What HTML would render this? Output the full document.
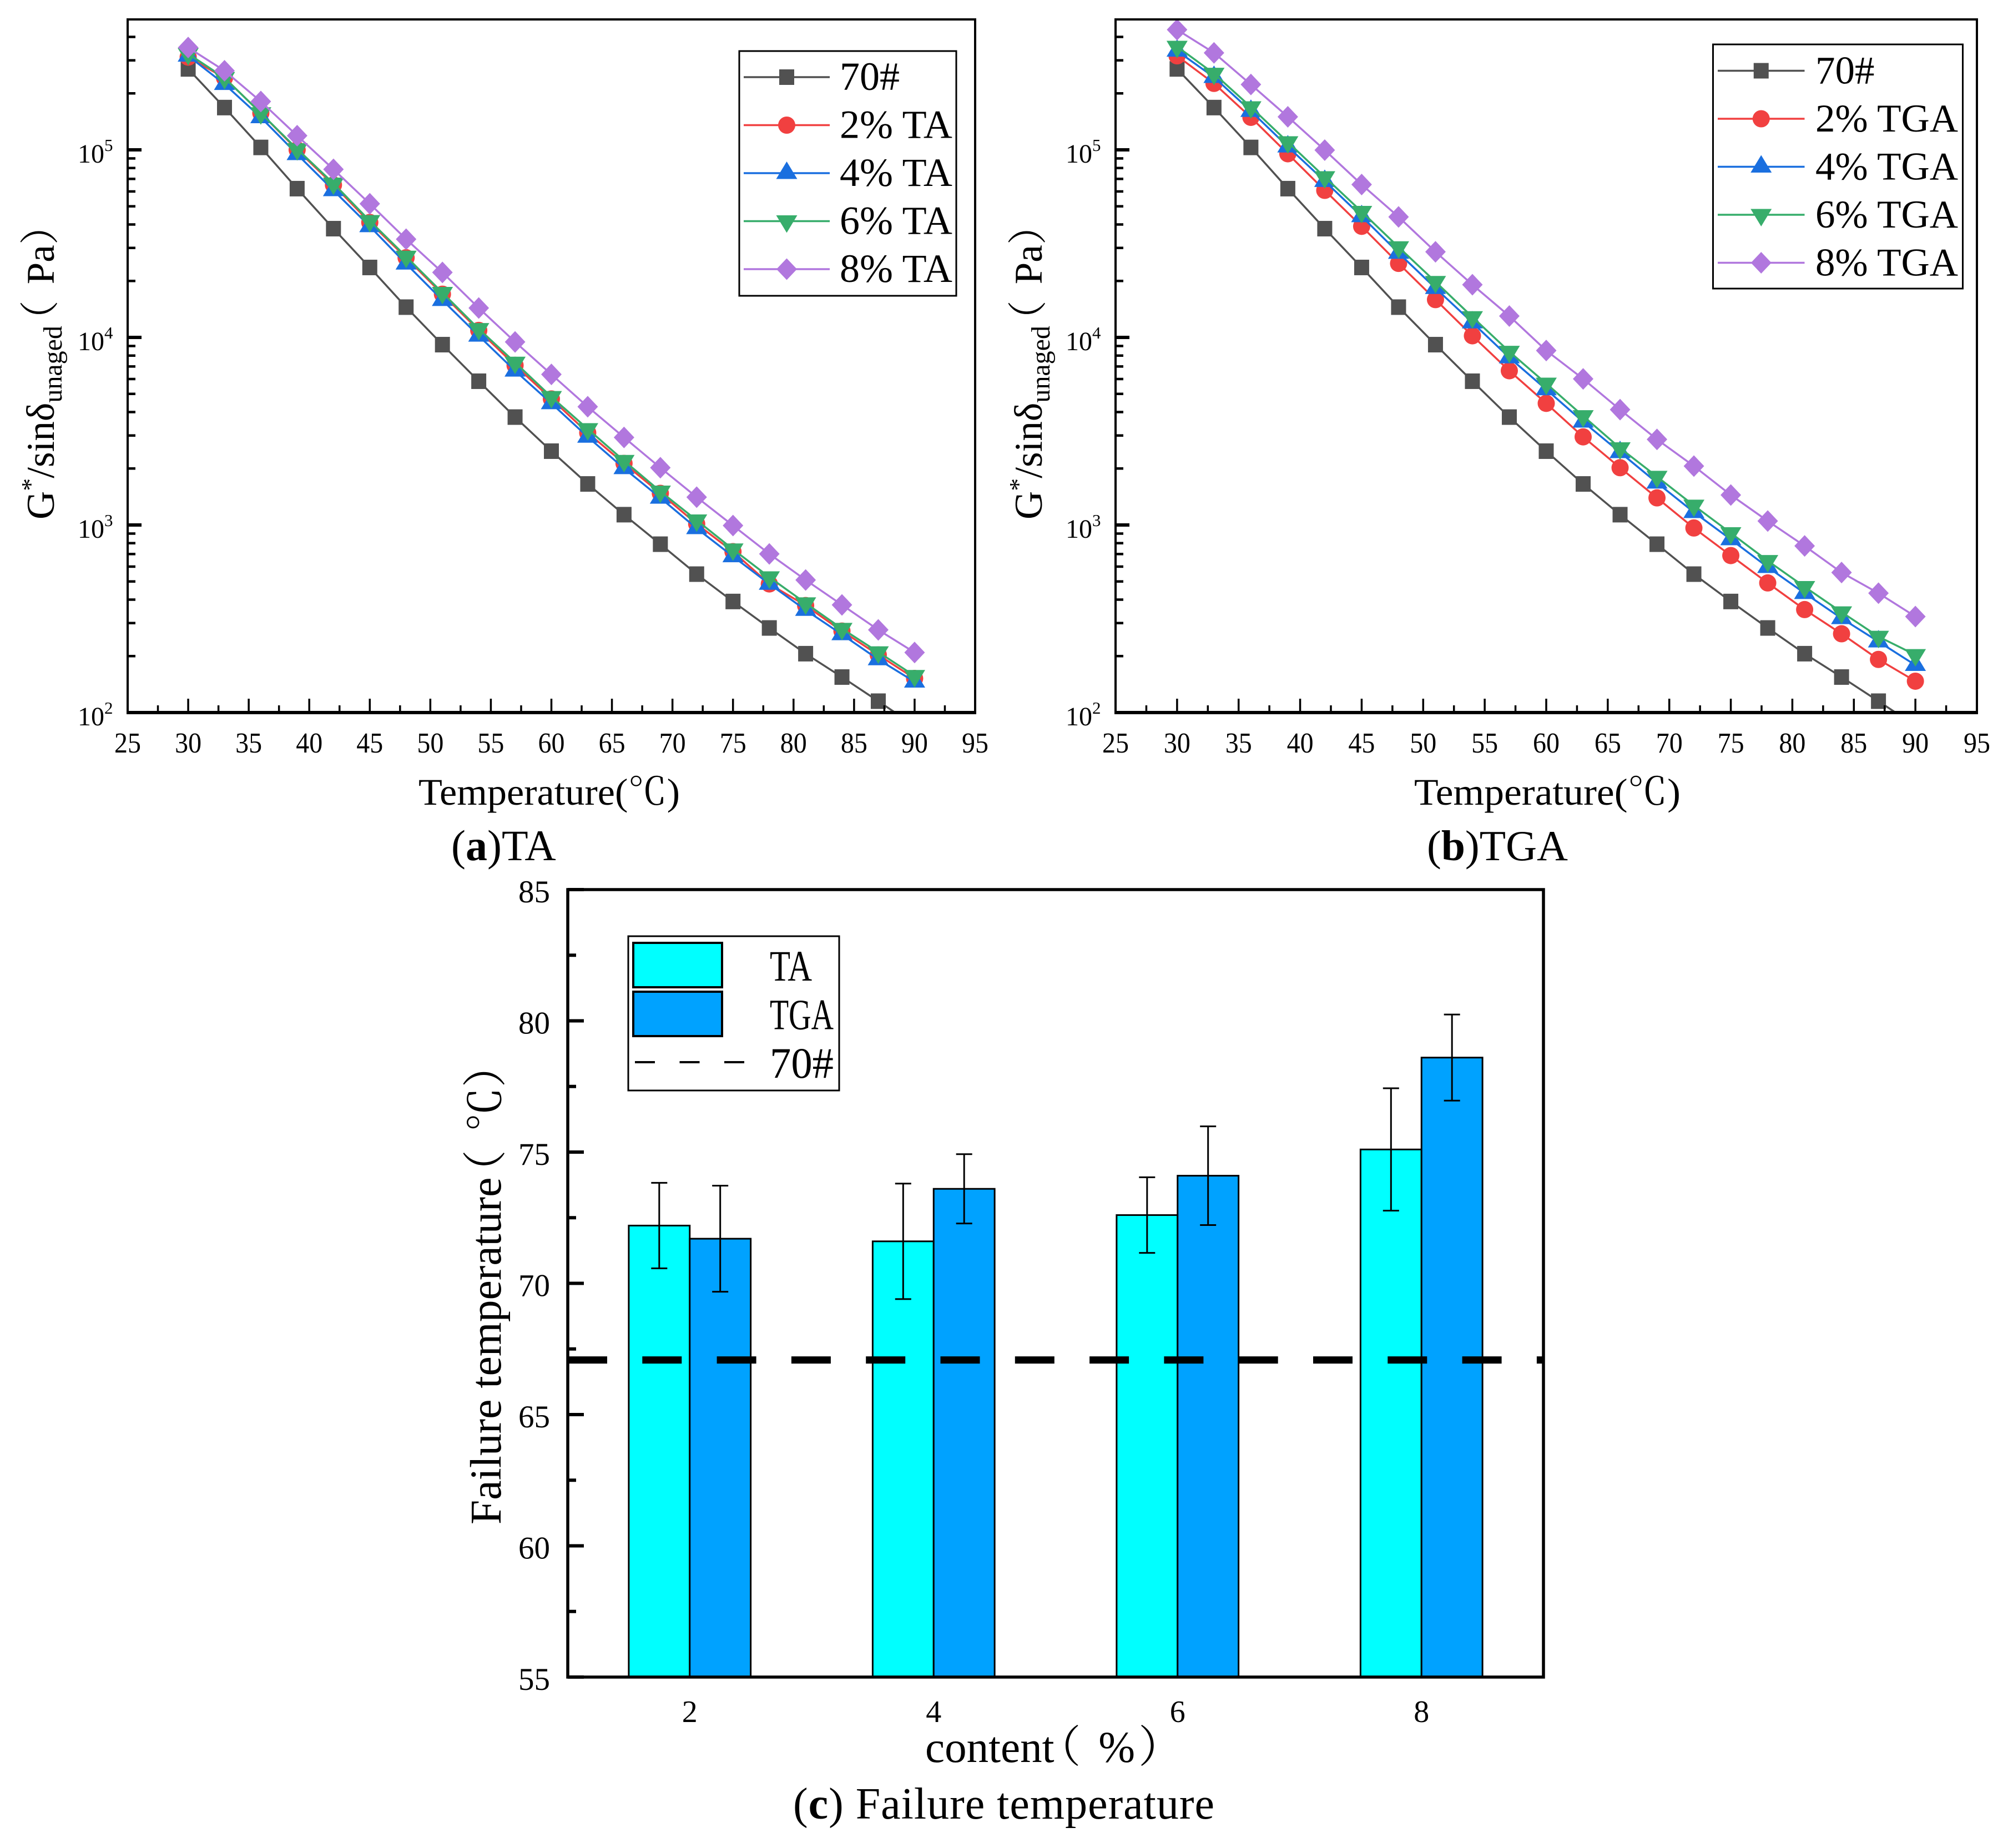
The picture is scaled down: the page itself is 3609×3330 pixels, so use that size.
<!DOCTYPE html>
<html lang="en">
<head>
<meta charset="utf-8">
<title>Failure temperature charts</title>
<style>
html,body{margin:0;padding:0;background:#fff;}
svg{display:block;}
text{font-family:"Liberation Serif","Noto Serif CJK SC",serif;fill:#000;}
</style>
</head>
<body>
<svg id="figure" xmlns="http://www.w3.org/2000/svg" width="3609" height="3330" viewBox="0 0 3609 3330">
<rect x="0" y="0" width="3609" height="3330" fill="#ffffff"/>
<defs>
<clipPath id="clip-a"><rect x="230" y="35" width="1527" height="1249"/></clipPath>
<clipPath id="clip-b"><rect x="2010" y="35" width="1552" height="1249"/></clipPath>
</defs>
<g id="panel-a"></g>
<g id="panel-b"></g>
<g id="panel-c"></g>

<text x="754" y="1450" font-size="68" textLength="471" lengthAdjust="spacingAndGlyphs">Temperature(℃)</text>
<text x="2548" y="1450" font-size="68" textLength="480" lengthAdjust="spacingAndGlyphs">Temperature(℃)</text>

<text transform="translate(97,936) rotate(-90)" font-size="71">G<tspan font-size="46" dy="-27">*</tspan><tspan dy="27">/sinδ</tspan><tspan font-size="48" dy="14">unaged</tspan><tspan dy="-14" dx="-25">（</tspan><tspan dx="11"> Pa</tspan><tspan>）</tspan></text>
<text transform="translate(1877,936) rotate(-90)" font-size="71">G<tspan font-size="46" dy="-27">*</tspan><tspan dy="27">/sinδ</tspan><tspan font-size="48" dy="14">unaged</tspan><tspan dy="-14" dx="-25">（</tspan><tspan dx="11"> Pa</tspan><tspan>）</tspan></text>

<text x="813" y="1550" font-size="78">(<tspan font-weight="bold">a</tspan>)TA</text>
<text x="2571" y="1550" font-size="77.5">(<tspan font-weight="bold">b</tspan>)TGA</text>

<text transform="translate(902,2747) rotate(-90)" font-size="79.6">Failure temperature<tspan dx="-30">（</tspan><tspan dx="13"> ℃</tspan><tspan>）</tspan></text>
<text x="1667" y="3175" font-size="79">content<tspan dx="-31">（</tspan><tspan dx="12"> %</tspan><tspan dx="6">）</tspan></text>
<text x="1429" y="3277" font-size="80" textLength="759" lengthAdjust="spacing">(<tspan font-weight="bold">c</tspan>) Failure temperature</text>
</svg>

<script>
const temperatures = [30,33,36,39,42,45,48,51,54,57,60,63,66,69,72,75,78,81,84,87,90];
const xTickLabels = [25,30,35,40,45,50,55,60,65,70,75,80,85,90,95];
const logDecades = [2,3,4,5];

const base70 = [270000,168000,103000,62100,38000,23600,14500,9150,5840,3760,2475,1655,1135,790,547,391,282.5,206,154.6,115,85];

const ta2 = [312000,242000,157000,100000,65000,41000,26600,17000,10900,7100,4700,3100,2130,1475,1013,721,485,372,272,203,152];
const ta4 = [317000,224000,149000,94700,60800,39100,24700,15800,10200,6640,4450,2950,2005,1395,960,680,485,352,261,192,146];
const ta6 = [325000,242000,157000,101000,66200,41800,27000,17300,11100,7350,4820,3250,2200,1510,1060,742,527,383,280,210,157];
const ta8 = [351000,264000,181000,119000,78700,51600,33400,22200,14350,9460,6350,4270,2930,2020,1407,993,701,509,375,276,209];

const tga2 = [317000,226000,149000,95300,60800,39100,24800,15900,10200,6640,4450,2950,2020,1395,964,687,491,354,263,192,147];
const tga4 = [337000,244000,161000,104000,68100,44200,28200,18300,12000,7810,5280,3550,2440,1680,1170,838,596,433,318,239,179];
const tga6 = [355000,255000,169000,110000,71600,46800,30300,19800,12850,8400,5680,3810,2570,1810,1270,906,644,468,343,254,203];
const tga8 = [437000,329000,223000,150000,99700,65300,43900,28600,19100,13000,8510,6010,4120,2860,2060,1445,1050,773,558,433,325];

const panelASeriesNames = ['70#','2% TA','4% TA','6% TA','8% TA'];
const panelBSeriesNames = ['70#','2% TGA','4% TGA','6% TGA','8% TGA'];

const barCategories = [2,4,6,8];
const taFailure = [72.2,71.6,72.6,75.1];
const tgaFailure = [71.7,73.6,74.1,78.6];
const taError = [1.63,2.2,1.44,2.33];
const tgaError = [2.02,1.32,1.88,1.64];
const base70Failure = 67.08;
const barYTickLabels = [55,60,65,70,75,80,85];
const barLegendNames = ['TA','TGA','70#'];

const NS = 'http://www.w3.org/2000/svg';
const seriesColors = ['#515151','#F14040','#1A6FDF','#37AD6B','#B177DE'];
const seriesShapes = ['square','circle','up','down','diamond'];

function mk(parent, tag, attrs, txt) {
  const el = document.createElementNS(NS, tag);
  for (const k in attrs) el.setAttribute(k, attrs[k]);
  if (txt !== undefined) el.textContent = txt;
  parent.appendChild(el);
  return el;
}

function drawMarker(parent, shape, x, y, color) {
  let el;
  if (shape === 'square') {
    el = mk(parent, 'rect', {x: x - 13.5, y: y - 14, width: 27, height: 28, fill: color});
  } else if (shape === 'circle') {
    el = mk(parent, 'ellipse', {cx: x, cy: y, rx: 15.5, ry: 15.5, fill: color});
  } else if (shape === 'up') {
    el = mk(parent, 'polygon', {points: `${x},${y - 21} ${x - 19},${y + 10.5} ${x + 19},${y + 10.5}`, fill: color});
  } else if (shape === 'down') {
    el = mk(parent, 'polygon', {points: `${x},${y + 21} ${x - 19},${y - 10.5} ${x + 19},${y - 10.5}`, fill: color});
  } else {
    el = mk(parent, 'polygon', {points: `${x},${y - 19.5} ${x + 18.5},${y} ${x},${y + 19.5} ${x - 18.5},${y}`, fill: color});
  }
  return el;
}

function drawLinePanel(g, cfg) {
  const decade = 338;
  const logSpan = (cfg.bottom - cfg.top) / decade;
  const xScale = t => cfg.left + (t - 25) / 70 * (cfg.right - cfg.left);
  const yScale = v => cfg.bottom - (Math.log10(v) - 2) / logSpan * (cfg.bottom - cfg.top);

  const plot = mk(g, 'g', {'clip-path': `url(#${cfg.clip})`});
  
  

  cfg.series.forEach((vals, i) => {
    const sg = mk(plot, 'g', {});
    
    
    const pts = vals.map((v, j) => xScale(temperatures[j]) + ',' + yScale(v)).join(' ');
    const line = mk(sg, 'polyline', {points: pts, fill: 'none', stroke: seriesColors[i], 'stroke-width': 3.5});
    
    
    vals.forEach((v, j) => {
      const m = drawMarker(sg, seriesShapes[i], xScale(temperatures[j]), yScale(v), seriesColors[i]);
      
      
    });
  });

  // frame
  const frame = mk(g, 'rect', {x: cfg.left, y: cfg.top, width: cfg.right - cfg.left, height: cfg.bottom - cfg.top, fill: 'none', stroke: '#000', 'stroke-width': 4});
  
  
  const bottomAxis = mk(g, 'line', {x1: cfg.left - 2, x2: cfg.right + 2, y1: cfg.bottom, y2: cfg.bottom, stroke: '#000', 'stroke-width': 6});
  
  

  // x ticks
  xTickLabels.forEach((t, i) => {
    const tk = mk(g, 'line', {x1: xScale(t), x2: xScale(t), y1: cfg.bottom, y2: cfg.bottom - 25, stroke: '#000', 'stroke-width': 3.5});
    
    
    const lb = mk(g, 'text', {x: xScale(t), y: 1356, 'font-size': 52, 'text-anchor': 'middle', textLength: 48, lengthAdjust: 'spacingAndGlyphs'}, String(t));
    
    
    if (i < xTickLabels.length - 1) {
      const mn = mk(g, 'line', {x1: xScale(t + 2.5), x2: xScale(t + 2.5), y1: cfg.bottom, y2: cfg.bottom - 13, stroke: '#000', 'stroke-width': 3.5});
      
      
    }
  });

  // y ticks
  logDecades.forEach(d => {
    const y = yScale(Math.pow(10, d));
    const tk = mk(g, 'line', {x1: cfg.left, x2: cfg.left + 25, y1: y, y2: y, stroke: '#000', 'stroke-width': 6});
    
    
    const lb = mk(g, 'text', {x: cfg.left - 90, y: y + 23, 'font-size': 48});
    
    
    mk(lb, 'tspan', {}, '10');
    mk(lb, 'tspan', {'font-size': 31, dy: -21}, String(d));
    for (let m = 2; m <= 9; m++) {
      const v = m * Math.pow(10, d);
      const ym = yScale(v);
      if (ym < cfg.top) continue;
      const mn = mk(g, 'line', {x1: cfg.left, x2: cfg.left + 14, y1: ym, y2: ym, stroke: '#000', 'stroke-width': 4.5});
      
      
    }
  });

  // legend
  const L = cfg.legend;
  const lg = mk(g, 'g', {});
  
  
  mk(lg, 'rect', {x: L.x, y: L.y, width: L.w, height: L.h, fill: '#fff', stroke: '#000', 'stroke-width': 3});
  cfg.names.forEach((n, i) => {
    const y = L.first + i * L.step;
    const e = mk(lg, 'g', {});
    
    
    mk(e, 'line', {x1: L.lineX1, x2: L.lineX2, y1: y, y2: y, stroke: seriesColors[i], 'stroke-width': 3.5});
    drawMarker(e, seriesShapes[i], (L.lineX1 + L.lineX2) / 2, y, seriesColors[i]);
    mk(e, 'text', {x: L.textX, y: y + 23, 'font-size': L.fontSize}, n);
  });
}

drawLinePanel(document.getElementById('panel-a'), {
  left: 230, right: 1757, top: 35, bottom: 1284, clip: 'clip-a',
  series: [base70, ta2, ta4, ta6, ta8], names: panelASeriesNames,
  legend: {x: 1332, y: 92, w: 391, h: 441, first: 139, step: 86.5, lineX1: 1340, lineX2: 1495, textX: 1513, fontSize: 72}
});
drawLinePanel(document.getElementById('panel-b'), {
  left: 2010, right: 3562, top: 35, bottom: 1284, clip: 'clip-b',
  series: [base70, tga2, tga4, tga6, tga8], names: panelBSeriesNames,
  legend: {x: 3086.5, y: 80, w: 450, h: 440, first: 127.5, step: 86.5, lineX1: 3095, lineX2: 3251.5, textX: 3271, fontSize: 71}
});

(function drawBarPanel() {
  const g = document.getElementById('panel-c');
  const left = 1023, right = 2781, top = 1603, bottom = 3022;
  const xScale = c => left + (c - 1) / 8 * (right - left);
  const yScale = v => bottom - (v - 55) / 30 * (bottom - top);
  const barW = 0.5;

  function bar(cat, val, err, color, offset, nm) {
    const x0 = xScale(cat + offset);
    const x1 = xScale(cat + offset + barW);
    const r = mk(g, 'rect', {x: x0, y: yScale(val), width: x1 - x0, height: bottom - yScale(val), fill: color, stroke: '#000', 'stroke-width': 3});
    
    
    const cx = (x0 + x1) / 2;
    const eb = mk(g, 'path', {d: `M${cx - 14.5} ${yScale(val + err)}H${cx + 14.5}M${cx} ${yScale(val + err)}V${yScale(val - err)}M${cx - 14.5} ${yScale(val - err)}H${cx + 14.5}`, fill: 'none', stroke: '#000', 'stroke-width': 3});
    
    
  }
  barCategories.forEach((c, i) => {
    bar(c, taFailure[i], taError[i], '#00FFFF', -barW, 'ta');
    bar(c, tgaFailure[i], tgaError[i], '#00A2FF', 0, 'tga');
    const lb = mk(g, 'text', {x: xScale(c), y: 3103, 'font-size': 56, 'text-anchor': 'middle'}, String(c));
    
    
  });

  const ref = mk(g, 'line', {x1: left, x2: right, y1: yScale(base70Failure), y2: yScale(base70Failure), stroke: '#000', 'stroke-width': 13, 'stroke-dasharray': '71 63.3'});
  
  

  const frame = mk(g, 'rect', {x: left, y: top, width: right - left, height: bottom - top, fill: 'none', stroke: '#000', 'stroke-width': 5.5});
  
  

  barYTickLabels.forEach((t, i) => {
    const y = yScale(t);
    const tk = mk(g, 'line', {x1: left, x2: left + 29, y1: y, y2: y, stroke: '#000', 'stroke-width': 6});
    
    
    const lb = mk(g, 'text', {x: 991, y: y + 23, 'font-size': 57, 'text-anchor': 'end'}, String(t));
    
    
    if (i < barYTickLabels.length - 1) {
      const ym = yScale(t + 2.5);
      const mn = mk(g, 'line', {x1: left, x2: left + 15, y1: ym, y2: ym, stroke: '#000', 'stroke-width': 6});
      
      
    }
  });

  const lg = mk(g, 'g', {});
  
  
  mk(lg, 'rect', {x: 1132, y: 1687, width: 380, height: 278, fill: '#fff', stroke: '#000', 'stroke-width': 3});
  mk(lg, 'rect', {x: 1141, y: 1699, width: 160, height: 80, fill: '#00FFFF', stroke: '#000', 'stroke-width': 4});
  mk(lg, 'rect', {x: 1141, y: 1787, width: 160, height: 80, fill: '#00A2FF', stroke: '#000', 'stroke-width': 4});
  mk(lg, 'line', {x1: 1144, x2: 1341, y1: 1914, y2: 1914, stroke: '#000', 'stroke-width': 4, 'stroke-dasharray': '36 44.5'});
  const legendBaselines = [1767, 1854.5, 1942];
  const legendWidths = [76, 115, 115];
  barLegendNames.forEach((n, i) => {
    const t = mk(lg, 'text', {x: 1387, y: legendBaselines[i], 'font-size': 78, textLength: legendWidths[i], lengthAdjust: 'spacingAndGlyphs'}, n);
    
    
  });
})();
</script>
</body>
</html>
